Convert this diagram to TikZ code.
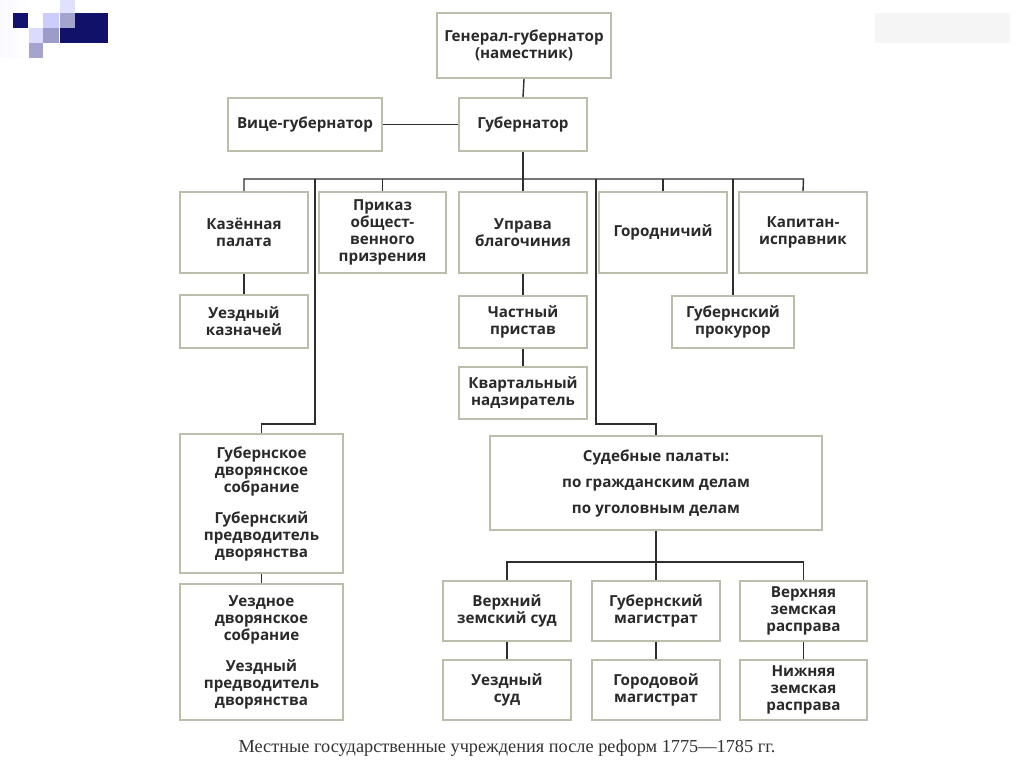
\documentclass[tikz,border=0pt]{standalone}
\usepackage{fontspec}
\setmainfont{Open Sans}
\newfontfamily\capfont{Liberation Serif}
\definecolor{boxline}{HTML}{BDBDAC}
\definecolor{conn}{HTML}{2E2E2E}
\definecolor{txt}{HTML}{2A2A2A}
\definecolor{navy}{HTML}{12126E}
\begin{document}
\begin{tikzpicture}[x=1pt,y=-1pt,
  box/.style={draw=boxline, line width=1.8pt, fill=white, inner sep=0pt, align=center,
    text=txt, font=\fontsize{15.2}{17}\selectfont\bfseries},
  link/.style={draw=conn, line width=1.4pt}]
\useasboundingbox (0,0) rectangle (1024,767);
\fill[white] (0,0) rectangle (1024,767);
% logo
\shade[left color=white!80!blue!12, right color=white] (0,0) rectangle (30,58);
\fill[navy] (13,13) rectangle (28,28);
\fill[navy!95!black] (60,13) rectangle (108,43);
\fill[blue!12!white] (60,0) rectangle (75,13);
\fill[blue!30!gray!55!white] (60,13) rectangle (75,28);
\fill[blue!20!white] (43,13) rectangle (59,28);
\fill[blue!30!gray!60!white] (43,28) rectangle (59,43);
\fill[blue!14!white] (29,28) rectangle (43,43);
\fill[blue!30!gray!55!white] (29,43) rectangle (43,58);
% faint top-right panel
\fill[black!4] (875,13) rectangle (1010,43);

% nodes
\node[box, minimum width=174, minimum height=65] (gg) at (524,45.5) {Генерал-губернатор\\(наместник)};
\node[box, minimum width=128, minimum height=53] (gub) at (523,124.5) {Губернатор};
\node[box, minimum width=154, minimum height=53] (vice) at (305,124.5) {Вице-губернатор};

\node[box, minimum width=128, minimum height=81] (kaz) at (244,232.5) {Казённая\\палата};
\node[box, minimum width=127, minimum height=81] (prik) at (382.5,232.5) {Приказ\\общест-\\венного\\призрения};
\node[box, minimum width=128, minimum height=81] (upr) at (523,232.5) {Управа\\благочиния};
\node[box, minimum width=128, minimum height=81] (gor) at (663,232.5) {Городничий};
\node[box, minimum width=128, minimum height=81] (kap) at (803,232.5) {Капитан-\\исправник};

\node[box, minimum width=128, minimum height=53] (ukaz) at (244,321.5) {Уездный\\казначей};
\node[box, minimum width=128, minimum height=52] (chast) at (523,322) {Частный\\пристав};
\node[box, minimum width=128, minimum height=52] (kvart) at (523,393) {Квартальный\\надзиратель};
\node[box, minimum width=122, minimum height=52] (prok) at (733,322) {Губернский\\прокурор};

\node[box, minimum width=163, minimum height=139] (gds) at (261.5,503.5) {Губернское\\дворянское\\собрание\\[14pt]Губернский\\предводитель\\дворянства};
\node[box, minimum width=163, minimum height=136] (uds) at (261.5,652) {Уездное\\дворянское\\собрание\\[14pt]Уездный\\предводитель\\дворянства};

\node[box, minimum width=332, minimum height=94] (sud) at (656,483) {Судебные палаты:\\[9pt]по гражданским делам\\[9pt]по уголовным делам};

\node[box, minimum width=128, minimum height=60] (vzs) at (507,611) {Верхний\\земский суд};
\node[box, minimum width=128, minimum height=60] (gm) at (656,611) {Губернский\\магистрат};
\node[box, minimum width=127, minimum height=60] (vzr) at (803.5,611) {Верхняя\\земская\\расправа};
\node[box, minimum width=128, minimum height=60] (us) at (507,690) {Уездный\\суд};
\node[box, minimum width=128, minimum height=60] (gorm) at (656,690) {Городовой\\магистрат};
\node[box, minimum width=127, minimum height=60] (nzr) at (803.5,690) {Нижняя\\земская\\расправа};

% junction coordinates
\coordinate (busA) at (244,179);
\coordinate (busB) at (803.5,179);
\coordinate (vl) at (315,179);
\coordinate (vlk) at (315,424);
\coordinate (vr) at (596,179);
\coordinate (vrk) at (596,424);
\coordinate (vp) at (733,179);
\coordinate (busC) at (507,562);
\coordinate (busD) at (803.5,562);

% connectors
\draw[link] (gg.south) -- (gub.north);
\draw[link] (vice.east) -- (gub.west);
\draw[link] (gub.south) -- (upr.north);
\draw[link] (kaz.north) -- (busA) -- (busB) -- (kap.north);
\draw[link] (prik.north) -- (prik.north |- busA);
\draw[link] (gor.north) -- (gor.north |- busA);
\draw[link] (vl) -- (vlk) -| (gds.north);
\draw[link] (vr) -- (vrk) -| (sud.north);
\draw[link] (vp) -- (prok.north);
\draw[link] (kaz.south) -- (ukaz.north);
\draw[link] (upr.south) -- (chast.north);
\draw[link] (chast.south) -- (kvart.north);
\draw[link] (gds.south) -- (uds.north);
\draw[link] (sud.south) -- (gm.north);
\draw[link] (vzs.north) -- (busC) -- (busD) -- (vzr.north);
\draw[link] (vzs.south) -- (us.north);
\draw[link] (gm.south) -- (gorm.north);
\draw[link] (vzr.south) -- (nzr.north);

% caption
\node[anchor=center, text=black!80, font=\capfont\fontsize{18.3}{20}\selectfont] (cap) at (507,748) {Местные государственные учреждения после реформ 1775—1785 гг.};
\end{tikzpicture}
\end{document}
